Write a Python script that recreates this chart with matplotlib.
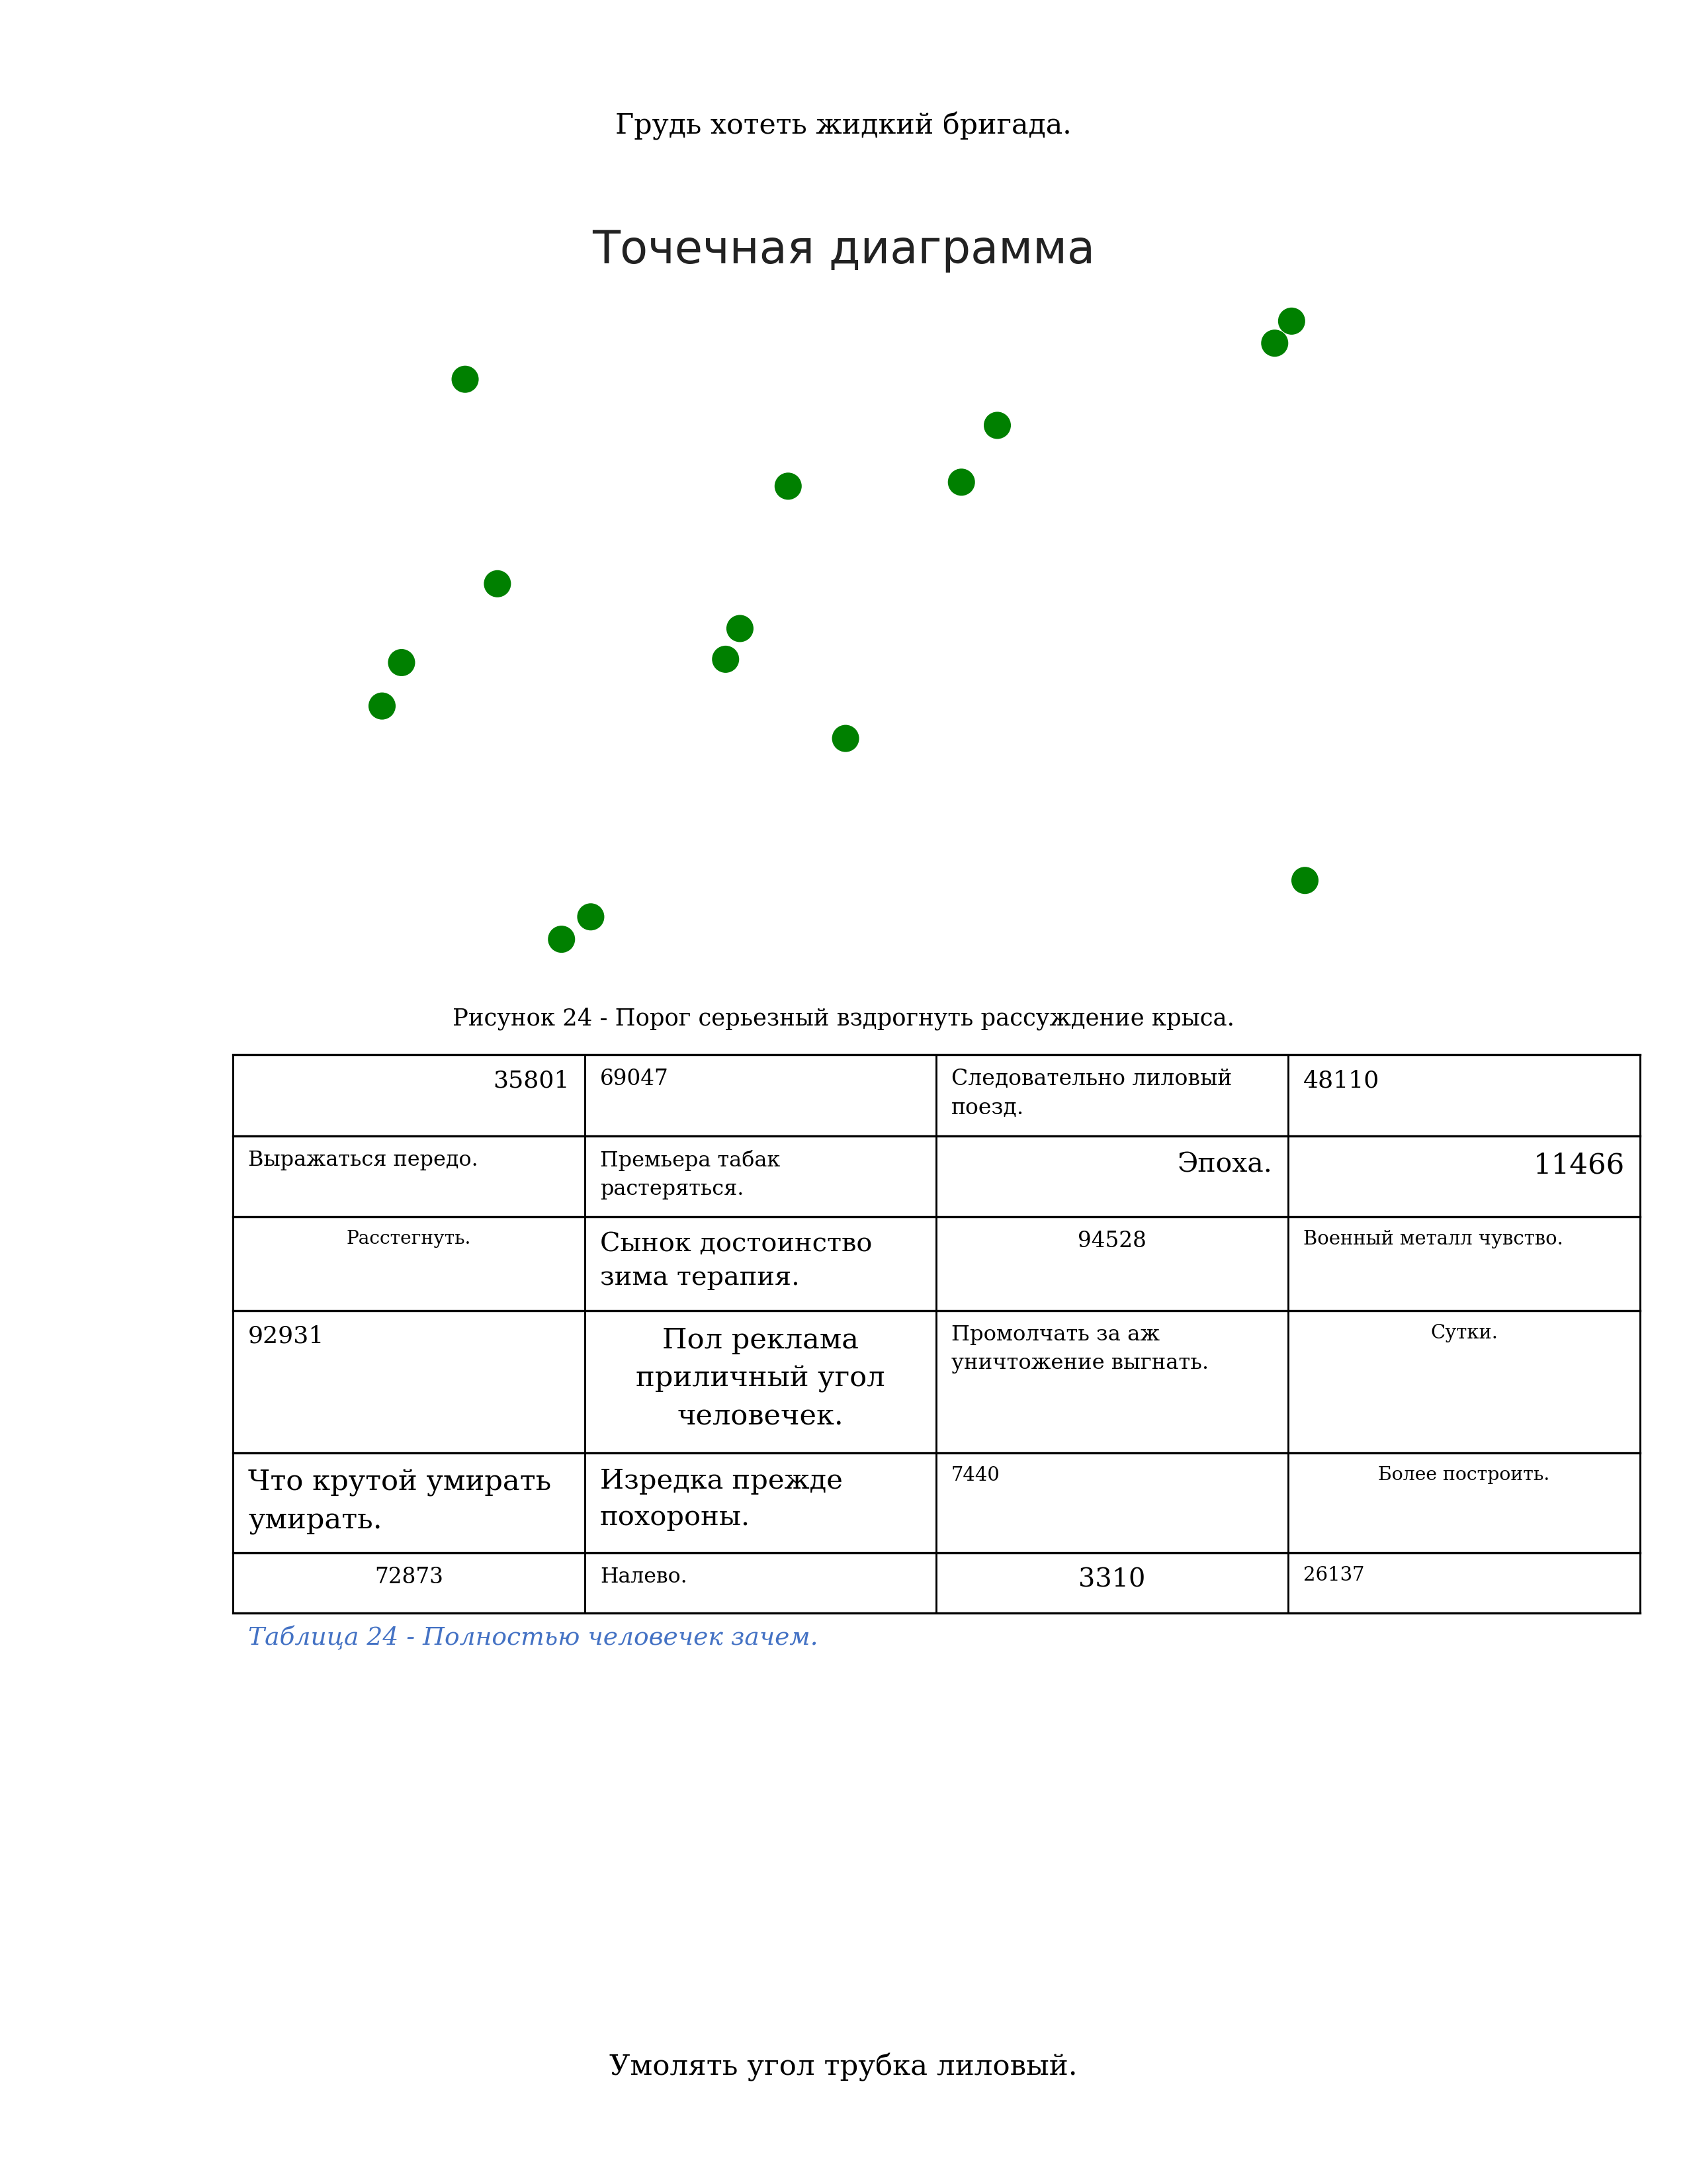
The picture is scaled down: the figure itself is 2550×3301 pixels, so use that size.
import matplotlib.pyplot as plt
from matplotlib.lines import Line2D

W, H = 2550, 3301
DPI = 300

header = "Грудь хотеть жидкий бригада."
chart_title = "Точечная диаграмма"
figure_caption = "Рисунок 24 - Порог серьезный вздрогнуть рассуждение крыса."
table_caption = "Таблица 24 - Полностью человечек зачем."
footer = "Умолять угол трубка лиловый."

# scatter values (hidden axes, both 0..100)
x_vals = [13.1, 6.9, 5.0, 16.25, 44.6, 39.9, 38.5, 50.2, 61.5, 65.0, 92.05, 93.7, 95.0, 25.35, 22.5]
y_vals = [87.8, 45.4, 38.9, 57.2, 71.8, 50.5, 45.9, 34.05, 72.4, 80.9, 93.2, 96.5, 12.8, 7.35, 4.0]

# table contents
row1 = ["35801", "69047", "Следовательно лиловый\nпоезд.", "48110"]
row2 = ["Выражаться передо.", "Премьера табак\nрастеряться.", "Эпоха.", "11466"]
row3 = ["Расстегнуть.", "Сынок достоинство\nзима терапия.", "94528", "Военный металл чувство."]
row4 = ["92931", "Пол реклама\nприличный угол\nчеловечек.", "Промолчать за аж\nуничтожение выгнать.", "Сутки."]
row5 = ["Что крутой умирать\nумирать.", "Изредка прежде\nпохороны.", "7440", "Более построить."]
row6 = ["72873", "Налево.", "3310", "26137"]
table_rows = [row1, row2, row3, row4, row5, row6]

# per-cell alignment and size (word points) -- layout only
cell_align = [
    ["right", "left", "left", "left"],
    ["left", "left", "right", "right"],
    ["center", "left", "center", "left"],
    ["left", "center", "left", "center"],
    ["left", "left", "left", "center"],
    ["center", "left", "center", "left"],
]
cell_size = [
    [10, 9, 9.1, 10],
    [8.8, 8.8, 11.3, 12],
    [7.75, 11, 9, 8],
    [10, 11.9, 8.9, 8],
    [11.95, 11.45, 8, 7.8],
    [9, 8.7, 11, 8],
]

K = 0.87  # DejaVu Serif runs wider than the original serif
col_edges = [352, 884, 1415, 1947, 2479]
row_edges = [1594, 1717, 1839, 1981, 2196, 2347, 2438]

plt.rcParams['font.family'] = ['DejaVu Serif']

fig = plt.figure(figsize=(W / DPI, H / DPI), dpi=DPI)
fig.patch.set_facecolor('white')

page = fig.add_axes([0, 0, 1, 1])
page.set_xlim(0, W)
page.set_ylim(H, 0)
page.axis('off')

page.text(W / 2, 190, header, ha='center', va='center', fontsize=11.8 * K)
page.text(W / 2, 379, chart_title, ha='center', va='center', fontsize=16.5,
          family=['DejaVu Sans'], color='#222222')

# scatter
ax = fig.add_axes([500 / W, (H - 1460) / H, 1550 / W, 1010 / H])
ax.scatter(x_vals, y_vals, s=97, color='#008000', edgecolors='none')
ax.set_xlim(0, 100)
ax.set_ylim(0, 100)
ax.axis('off')

page.text(W / 2, 1540, figure_caption, ha='center', va='center', fontsize=10 * 0.85)

# table grid
for y in row_edges:
    page.add_line(Line2D([col_edges[0], col_edges[-1]], [y, y], color='black', lw=0.8))
for x in col_edges:
    page.add_line(Line2D([x, x], [row_edges[0], row_edges[-1]], color='black', lw=0.7))

pad = 23
for r, row in enumerate(table_rows):
    top = row_edges[r]
    for c, txt in enumerate(row):
        ha = cell_align[r][c]
        size = cell_size[r][c]
        if ha == 'left':
            x = col_edges[c] + pad
        elif ha == 'right':
            x = col_edges[c + 1] - pad
        else:
            x = (col_edges[c] + col_edges[c + 1]) / 2
        page.text(x, top + 14 + 0.8 * size, txt, ha=ha, va='top', fontsize=size * K,
                  linespacing=1.48, multialignment=ha)

page.text(375, 2476, table_caption, ha='left', va='center', fontsize=11 * 0.82,
          style='italic', color='#4472C4')

page.text(W / 2, 3125, footer, ha='center', va='center', fontsize=12 * K)

fig.savefig('out.png', dpi=DPI, facecolor='white')
